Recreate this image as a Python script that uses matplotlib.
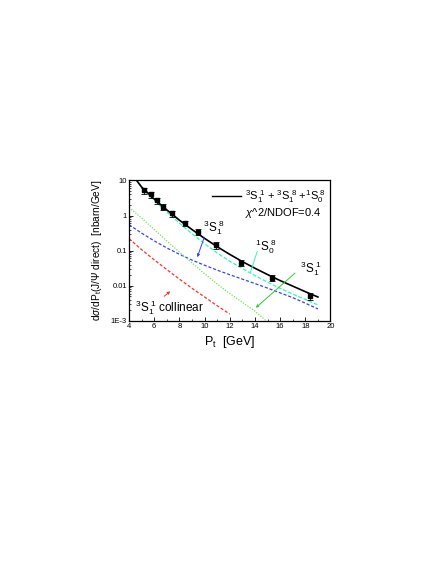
import matplotlib
matplotlib.use("Agg")
import matplotlib.pyplot as plt
from matplotlib.ticker import FixedLocator, NullFormatter, LogLocator

plt.rcParams['font.family'] = ['Liberation Sans', 'DejaVu Sans']
plt.rcParams['mathtext.fontset'] = 'custom'
plt.rcParams['mathtext.rm'] = 'Liberation Sans'
plt.rcParams['mathtext.it'] = 'Liberation Sans:italic'
plt.rcParams['mathtext.bf'] = 'Liberation Sans:bold'

# measured points
pt_data = [5.22, 5.75, 6.22, 6.7, 7.44, 8.47, 9.45, 10.9, 12.9, 15.37, 18.4]
y_data = [5.2, 4.0, 2.7, 1.8, 1.15, 0.6, 0.35, 0.145, 0.046, 0.017, 0.005]
y_err = [1.1, 0.8, 0.55, 0.35, 0.22, 0.11, 0.07, 0.03, 0.009, 0.0035, 0.0011]

# total 3S1(1) + 3S1(8) + 1S0(8)
pt_tot = [4.6, 5, 6, 7, 8, 9, 10, 11, 12, 13, 14, 15, 16, 17, 18, 19]
y_tot = [10, 6.5, 2.95, 1.45, 0.74, 0.40, 0.224, 0.130, 0.0785, 0.049,
         0.0316, 0.0209, 0.0141, 0.0098, 0.0068, 0.0048]

# 1S0(8)
pt_1s08 = [4.8, 5, 6, 7, 8, 9, 10, 11, 12, 13, 14, 15, 16, 17, 18, 19]
y_1s08 = [8.0, 6.0, 2.7, 1.26, 0.61, 0.305, 0.158, 0.086, 0.050, 0.031,
          0.0195, 0.0127, 0.0085, 0.0058, 0.0041, 0.00285]

# 3S1(8)
pt_3s18 = [4, 5, 6, 7, 8, 9, 10, 11, 12, 13, 14, 15, 16, 17, 18, 19]
y_3s18 = [0.55, 0.316, 0.19, 0.12, 0.079, 0.054, 0.0385, 0.0279, 0.0207,
          0.0155, 0.0116, 0.0086, 0.0063, 0.0046, 0.0032, 0.0022]

# 3S1(1)
pt_3s11 = [4, 5, 6, 7, 8, 9, 10, 11, 12, 13, 14, 14.9]
y_3s11 = [1.7, 0.85, 0.4, 0.19, 0.091, 0.045, 0.022, 0.0112, 0.006, 0.0034,
          0.0019, 0.001]

# 3S1(1) collinear
pt_col = [4, 5, 6, 7, 8, 9, 10, 11, 12]
y_col = [0.22, 0.107, 0.055, 0.029, 0.0155, 0.0085, 0.0048, 0.0027, 0.00157]

fig = plt.figure(figsize=(4.36, 5.64), dpi=100)
ax = fig.add_axes([0.296, 0.431, 0.462, 0.249])

ax.plot(pt_1s08, y_1s08, color='#33f5c0', lw=0.9, ls=(0, (3, 1.5)))
ax.plot(pt_3s18, y_3s18, color='#3344ff', lw=0.9, ls=(0, (2.5, 1.5)))
ax.plot(pt_3s11, y_3s11, color='#77e055', lw=0.9, ls=(0, (1, 1.2)))
ax.plot(pt_col, y_col, color='#ff3030', lw=0.9, ls=(0, (2.5, 1.5)))
ax.plot(pt_tot, y_tot, color='black', lw=1.2)
ax.errorbar(pt_data, y_data, yerr=y_err, fmt='s', color='black', ms=2.5,
            capsize=2.2, elinewidth=0.6, capthick=0.6)

ax.set_yscale('log')
ax.set_xlim(4, 20)
ax.set_ylim(1e-3, 10)
ax.set_xticks(range(4, 21, 2))
ax.xaxis.set_minor_locator(FixedLocator(range(5, 20, 2)))
ax.set_yticks([1e-3, 1e-2, 1e-1, 1, 10])
ax.set_yticklabels(['1E-3', '0.01', '0.1', '1', '10'])
ax.yaxis.set_minor_locator(LogLocator(base=10, subs=range(2, 10)))
ax.yaxis.set_minor_formatter(NullFormatter())
ax.tick_params(which='both', direction='in', labelsize=5.5, pad=1.5)
ax.tick_params(which='major', length=3, width=0.6)
ax.tick_params(which='minor', length=1.5, width=0.5)
for s in ax.spines.values():
    s.set_linewidth(0.9)

ax.set_xlabel(r'P$_\mathrm{t}$  [GeV]', fontsize=9, labelpad=3)
ax.set_ylabel(r'd$\sigma$/dP$_\mathrm{t}$(J/$\Psi$ direct)  [nbarn/GeV]',
              fontsize=7.3, labelpad=5)

# legend line and text
ax.plot([10.6, 12.9], [3.5, 3.5], color='black', lw=1.0)
ax.text(13.2, 3.5, r'$^3$S$_1^{\ 1}$ + $^3$S$_1^{\ 8}$ +$^1$S$_0^{\ 8}$',
        fontsize=8, va='center', ha='left')
ax.text(13.2, 1.15, r'$\chi$^2/NDOF=0.4', fontsize=8, va='center', ha='left')

ax.text(9.9, 0.45, r'$^3$S$_1^{\ 8}$', fontsize=8.5, va='center')
ax.annotate('', xy=(9.35, 0.055), xytext=(10.05, 0.29),
            arrowprops=dict(arrowstyle='-|>', color='#3344ff', lw=0.7,
                            mutation_scale=4))
ax.text(14.0, 0.13, r'$^1$S$_0^{\ 8}$', fontsize=8.5, va='center')
ax.plot([14.18, 13.65], [0.095, 0.025], color='#33f5c0', lw=0.7)
ax.text(17.6, 0.03, r'$^3$S$_1^{\ 1}$', fontsize=8.5, va='center')
ax.annotate('', xy=(13.9, 0.0021), xytext=(17.35, 0.026),
            arrowprops=dict(arrowstyle='-|>', color='#33cc33', lw=0.7,
                            mutation_scale=4))
ax.text(4.5, 0.0024, r'$^3$S$_1^{\ 1}$ collinear', fontsize=8.5, va='center')
ax.annotate('', xy=(7.45, 0.0078), xytext=(6.62, 0.0045),
            arrowprops=dict(arrowstyle='-|>', color='#ff3030', lw=0.7,
                            mutation_scale=4))

fig.savefig('out.png', dpi=100)
